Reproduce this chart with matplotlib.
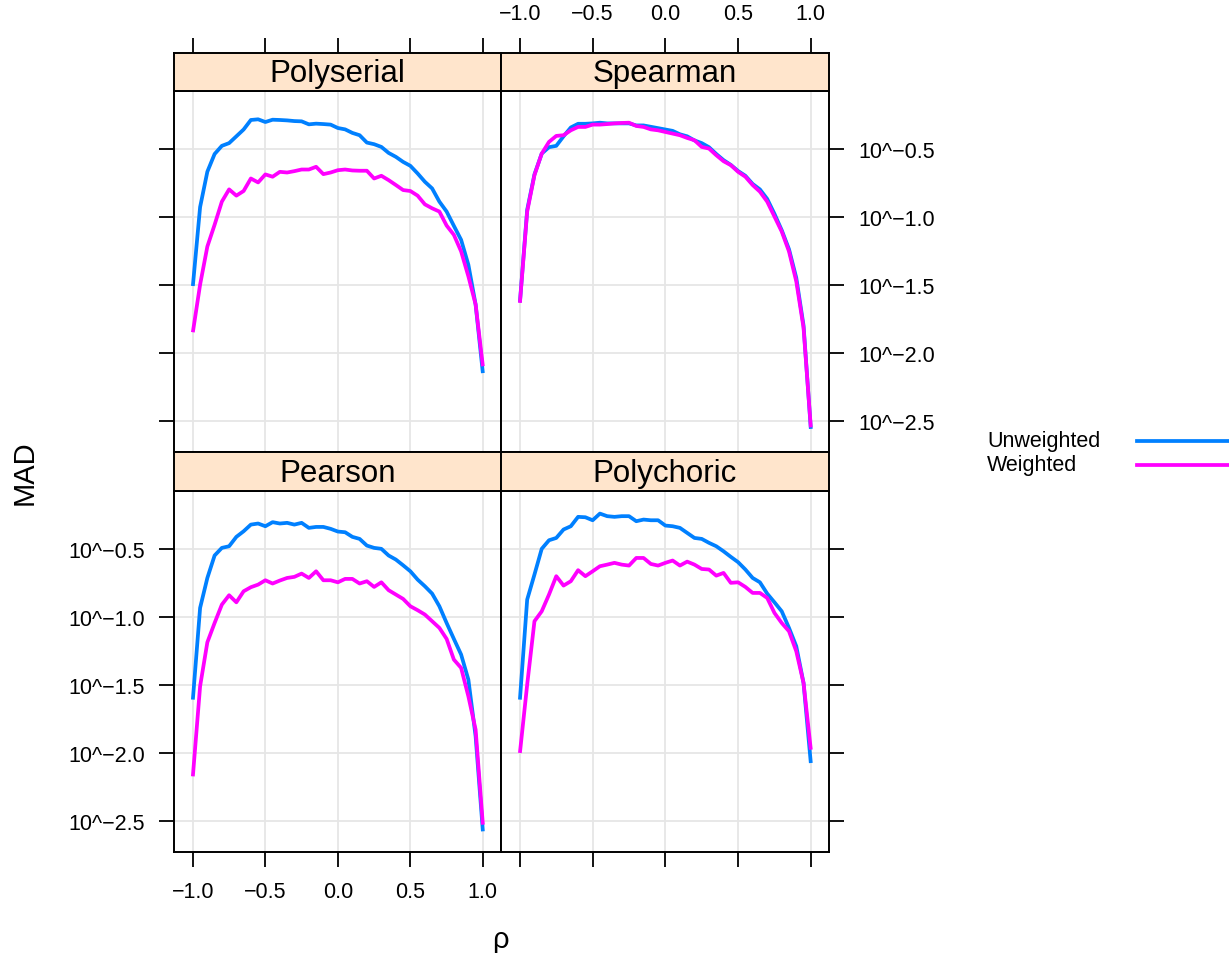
import numpy as np
import matplotlib
matplotlib.use("Agg")
import matplotlib.pyplot as plt
from matplotlib.lines import Line2D

plt.rcParams['font.family'] = ['Liberation Sans', 'DejaVu Sans']

# rho grid (x values)
rho = [-1.0, -0.95, -0.9, -0.85, -0.8, -0.75, -0.7, -0.65, -0.6, -0.55,
       -0.5, -0.45, -0.4, -0.35, -0.3, -0.25, -0.2, -0.15, -0.1, -0.05,
       0.0, 0.05, 0.1, 0.15, 0.2, 0.25, 0.3, 0.35, 0.4, 0.45,
       0.5, 0.55, 0.6, 0.65, 0.7, 0.75, 0.8, 0.85, 0.9, 0.95, 1.0]

# log10(MAD)
polyserial_unw = [-1.51, -0.93, -0.67, -0.54, -0.48, -0.46, -0.41, -0.36, -0.29, -0.285,
                  -0.305, -0.288, -0.29, -0.293, -0.298, -0.30, -0.322, -0.317, -0.32, -0.324,
                  -0.349, -0.359, -0.385, -0.402, -0.456, -0.468, -0.488, -0.532, -0.561, -0.598,
                  -0.627, -0.683, -0.744, -0.793, -0.89, -0.963, -1.068, -1.171, -1.354, -1.646, -2.15]
polyserial_w = [-1.85, -1.50, -1.22, -1.06, -0.89, -0.80, -0.846, -0.812, -0.72, -0.749,
                -0.69, -0.707, -0.671, -0.676, -0.666, -0.654, -0.654, -0.634, -0.688, -0.676,
                -0.659, -0.654, -0.661, -0.663, -0.663, -0.72, -0.70, -0.732, -0.768, -0.805,
                -0.812, -0.846, -0.91, -0.939, -0.963, -1.066, -1.134, -1.256, -1.439, -1.646, -2.10]

spearman_unw = [-1.63, -0.95, -0.69, -0.537, -0.49, -0.48, -0.41, -0.345, -0.318, -0.318,
                -0.315, -0.31, -0.315, -0.315, -0.315, -0.315, -0.33, -0.33, -0.34, -0.35,
                -0.36, -0.37, -0.395, -0.41, -0.44, -0.46, -0.49, -0.54, -0.585, -0.62,
                -0.665, -0.70, -0.76, -0.80, -0.87, -0.98, -1.10, -1.24, -1.45, -1.80, -2.56]
spearman_w = [-1.634, -0.963, -0.695, -0.537, -0.451, -0.407, -0.402, -0.366, -0.341, -0.341,
              -0.324, -0.324, -0.32, -0.315, -0.312, -0.31, -0.334, -0.341, -0.359, -0.366,
              -0.378, -0.39, -0.402, -0.422, -0.439, -0.488, -0.50, -0.549, -0.593, -0.622,
              -0.671, -0.707, -0.768, -0.817, -0.89, -1.0, -1.11, -1.256, -1.476, -1.817, -2.549]

pearson_unw = [-1.61, -0.936, -0.716, -0.551, -0.495, -0.483, -0.414, -0.373, -0.324, -0.316,
               -0.336, -0.306, -0.316, -0.311, -0.324, -0.311, -0.348, -0.341, -0.341, -0.355,
               -0.375, -0.38, -0.414, -0.429, -0.478, -0.495, -0.502, -0.551, -0.581, -0.623,
               -0.667, -0.728, -0.777, -0.831, -0.924, -1.047, -1.164, -1.279, -1.463, -1.88, -2.578]
pearson_w = [-2.174, -1.512, -1.189, -1.047, -0.912, -0.843, -0.895, -0.814, -0.784, -0.765,
             -0.733, -0.757, -0.735, -0.716, -0.708, -0.684, -0.716, -0.667, -0.733, -0.733,
             -0.748, -0.723, -0.723, -0.757, -0.74, -0.782, -0.748, -0.806, -0.838, -0.87,
             -0.924, -0.953, -0.985, -1.034, -1.083, -1.164, -1.316, -1.377, -1.586, -1.831, -2.529]

polychoric_unw = [-1.61, -0.875, -0.691, -0.502, -0.439, -0.422, -0.36, -0.336, -0.267, -0.27,
                  -0.292, -0.243, -0.262, -0.267, -0.262, -0.262, -0.299, -0.287, -0.292, -0.292,
                  -0.331, -0.336, -0.348, -0.385, -0.422, -0.429, -0.458, -0.483, -0.52, -0.561,
                  -0.60, -0.654, -0.716, -0.748, -0.831, -0.895, -0.961, -1.083, -1.218, -1.488, -2.076]
polychoric_w = [-2.002, -1.50, -1.034, -0.961, -0.838, -0.703, -0.772, -0.74, -0.659, -0.703,
                -0.667, -0.63, -0.618, -0.605, -0.618, -0.625, -0.569, -0.569, -0.613, -0.625,
                -0.605, -0.588, -0.625, -0.596, -0.618, -0.65, -0.654, -0.699, -0.679, -0.752,
                -0.748, -0.782, -0.826, -0.826, -0.863, -0.973, -1.047, -1.108, -1.255, -1.488, -1.978]

panels = ['Polyserial', 'Spearman', 'Pearson', 'Polychoric']
unweighted = [polyserial_unw, spearman_unw, pearson_unw, polychoric_unw]
weighted = [polyserial_w, spearman_w, pearson_w, polychoric_w]
series_names = ['Unweighted', 'Weighted']

xticks = [-1.0, -0.5, 0.0, 0.5, 1.0]
xticklabels = ['\u22121.0', '\u22120.5', '0.0', '0.5', '1.0']
yticks = [-0.5, -1.0, -1.5, -2.0, -2.5]
yticklabels = ['10^\u22120.5', '10^\u22121.0', '10^\u22121.5', '10^\u22122.0', '10^\u22122.5']

blue = '#0080ff'
magenta = '#ff00ff'
strip_col = '#ffe5cc'
W, H = 1229, 954
LW = 2.7

fig = plt.figure(figsize=(W / 100, H / 100), dpi=100)


def box(x0, y0, x1, y1):
    # pixel box (top-left origin) -> figure fraction rect
    return [x0 / W, 1 - y1 / H, (x1 - x0) / W, (y1 - y0) / H]


cols = [(174, 501), (501, 829)]
rows = [(54, 92, 453), (453, 492, 853)]   # strip top, plot top, plot bottom
tick_kw = dict(length=11, width=1.3, color='black', labelsize=15.5, pad=10)

for k, name in enumerate(panels):
    r, c = divmod(k, 2)
    x0, x1 = cols[c]
    st, pt, pb = rows[r]

    ax = fig.add_axes(box(x0, pt, x1, pb))
    ax.plot(rho, unweighted[k], color=blue, lw=LW, solid_capstyle='butt')
    ax.plot(rho, weighted[k], color=magenta, lw=LW, solid_capstyle='butt')
    ax.set_xlim(-1.13, 1.125)
    ax.set_ylim(-2.73, -0.077)
    ax.set_xticks(xticks)
    ax.set_yticks(yticks)
    ax.grid(True, color='#e6e6e6', lw=1.3)
    ax.set_axisbelow(True)
    for s in ax.spines.values():
        s.set_linewidth(1.4)

    ax.tick_params(axis='both', direction='out', **tick_kw)
    # lattice-style alternating axes
    ax.tick_params(axis='x', top=False, bottom=(r == 1), labelbottom=(r == 1 and c == 0))
    ax.tick_params(axis='y', left=(c == 0), right=(c == 1),
                   labelleft=(r == 1 and c == 0), labelright=(r == 0 and c == 1))
    ax.set_xticklabels(xticklabels)
    ax.set_yticklabels(yticklabels)

    sax = fig.add_axes(box(x0, st, x1, pt))
    sax.set_facecolor(strip_col)
    sax.set_xlim(-1.13, 1.125)
    sax.set_ylim(0, 1)
    sax.set_yticks([])
    for s in sax.spines.values():
        s.set_linewidth(1.4)
    sax.text(0.5, 0.47, name, transform=sax.transAxes, ha='center', va='center', fontsize=22.5)
    if r == 0:
        sax.set_xticks(xticks)
        sax.set_xticklabels(xticklabels)
        sax.tick_params(axis='x', direction='out', top=True, bottom=False,
                        labeltop=(c == 1), labelbottom=False, **tick_kw)
    else:
        sax.set_xticks([])

fig.text(25 / W, 1 - 473 / H, 'MAD', rotation=90, ha='center', va='center', fontsize=21)
fig.text(500 / W, 1 - 940 / H, '\u03c1', ha='center', va='center', fontsize=21)

# key: labels on the left, line samples on the right (cut by the page edge)
for i, (lab, col) in enumerate(zip(series_names, [blue, magenta])):
    y = 1 - (442 + 24 * i) / H
    fig.text(987 / W, y, lab, ha='left', va='center', fontsize=15.5)
    fig.add_artist(Line2D([1137 / W, 1240 / W], [y, y], color=col, lw=LW,
                          transform=fig.transFigure))

fig.savefig('out.png', dpi=100)
